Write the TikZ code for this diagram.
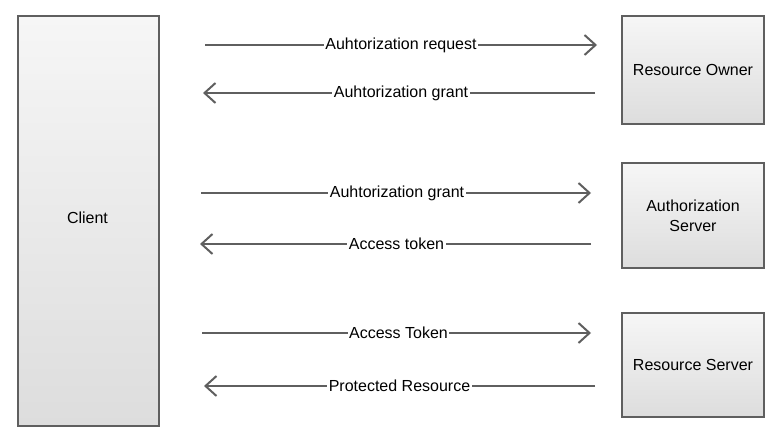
\documentclass[tikz,border=0pt]{standalone}
\usepackage{fontspec}
\setmainfont{Liberation Sans}
\usetikzlibrary{arrows.meta}
\definecolor{edge}{HTML}{5F5F5F}
\definecolor{topc}{HTML}{F6F6F6}
\definecolor{botc}{HTML}{DDDDDD}
\begin{document}
\begin{tikzpicture}[x=1pt,y=-1pt,
  box/.style={draw=edge, line width=2pt, top color=topc, bottom color=botc, shading angle=0,
    inner sep=0pt, align=center, font=\fontsize{16}{18}\selectfont},
  msg/.style={draw=edge, line width=2pt, -{Straight Barb[length=11pt,width=20pt,line width=2pt]}},
  lbl/.style={fill=white, inner sep=1.5pt, font=\fontsize{16}{18}\selectfont, text=black}]
\useasboundingbox (0,0) rectangle (781,438);
\node[box, minimum width=141pt, minimum height=410pt, anchor=north west] (client) at (17,15) {};
\node[font=\fontsize{16}{18}\selectfont] (clientlbl) at (87.5,217.5) {Client};
\node[box, minimum width=142pt, minimum height=108pt, anchor=north west] (owner) at (621,15) {Resource Owner};
\node[box, minimum width=142pt, minimum height=105pt, anchor=north west] (auth) at (621,162) {Authorization\\[2pt]Server};
\node[box, minimum width=142pt, minimum height=104pt, anchor=north west] (res) at (621,312) {Resource Server};
\coordinate (a1) at (205,45); \coordinate (b1) at (597,45);
\coordinate (a2) at (203,93); \coordinate (b2) at (595,93);
\coordinate (a3) at (201,193); \coordinate (b3) at (591,193);
\coordinate (a4) at (200,244); \coordinate (b4) at (591,244);
\coordinate (a5) at (202,333); \coordinate (b5) at (591,333);
\coordinate (a6) at (204,386); \coordinate (b6) at (595,386);
\draw[msg] (a1) -- node[lbl] {Auhtorization request} (b1);
\draw[msg] (b2) -- node[lbl, xshift=2pt] {Auhtorization grant} (a2);
\draw[msg] (a3) -- node[lbl, xshift=1pt] {Auhtorization grant} (b3);
\draw[msg] (b4) -- node[lbl, xshift=1pt] {Access token} (a4);
\draw[msg] (a5) -- node[lbl, xshift=2pt] {Access Token} (b5);
\draw[msg] (b6) -- node[lbl, xshift=0pt] {Protected Resource} (a6);
\end{tikzpicture}
\end{document}
